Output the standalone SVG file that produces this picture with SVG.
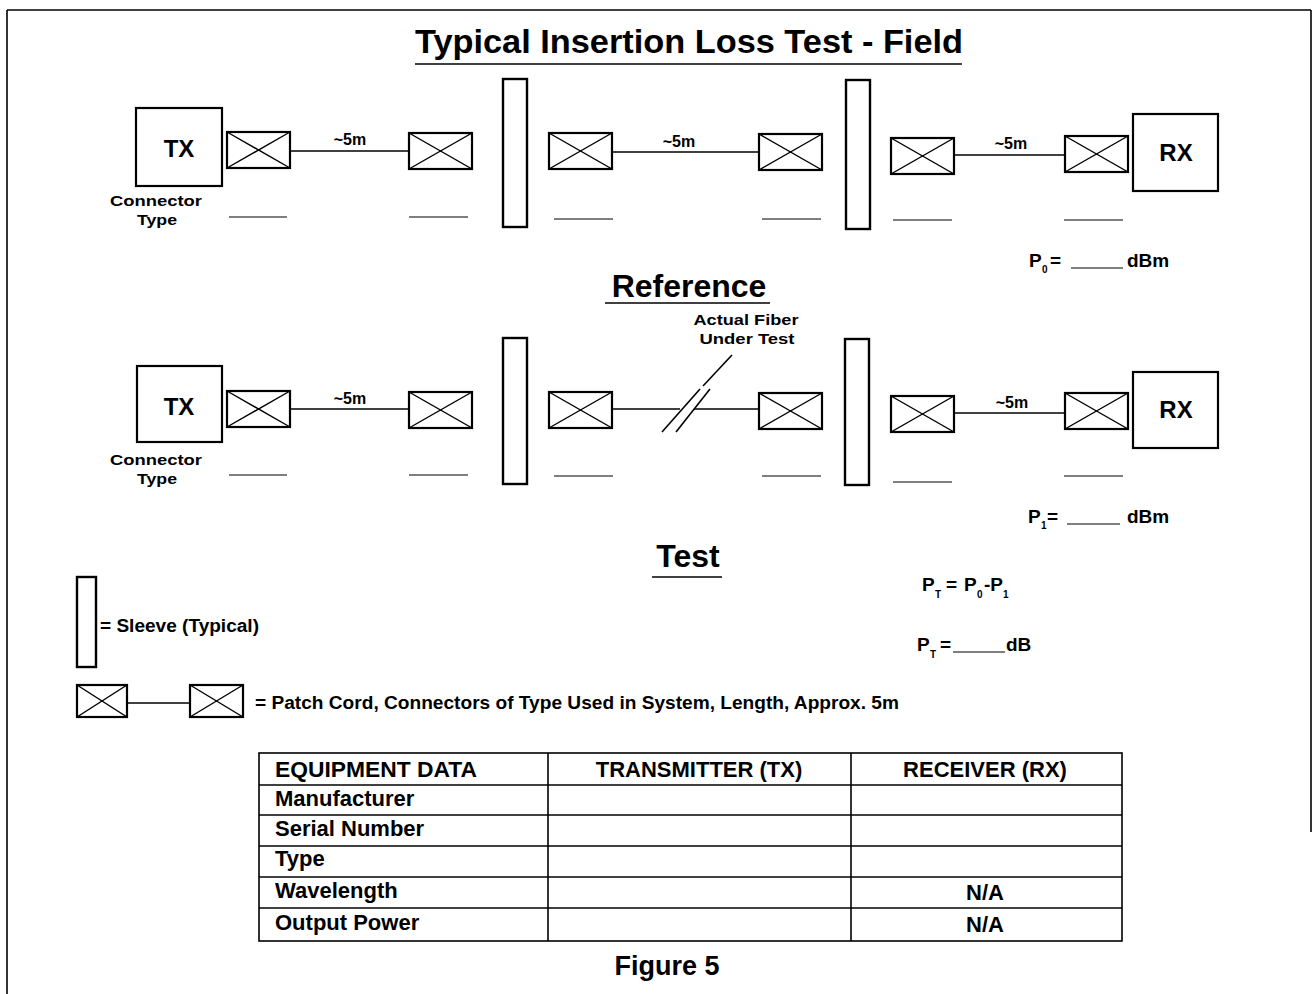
<svg xmlns="http://www.w3.org/2000/svg" width="1315" height="994" viewBox="0 0 1315 994">
<style>
text{font-family:"Liberation Sans",Arial,sans-serif;font-weight:bold;fill:#000}
.box{fill:#fff;stroke:#000;stroke-width:2.2}
.xb{fill:#fff;stroke:#000;stroke-width:2.2}
.xl{stroke:#000;stroke-width:1.4}
.ln{stroke:#000;stroke-width:1.6;fill:none}
.bl{stroke:#000;stroke-width:1.2}
.sl{fill:#fff;stroke:#000;stroke-width:2.4}
.t1{font-size:34px}
.t2{font-size:32px}
.lab{font-size:24px;text-anchor:middle}
.m5{font-size:16px;text-anchor:middle}
.ct{font-size:15px;text-anchor:middle}
.pw{font-size:19px}
.sub{font-size:10px}
.tb{font-size:22px}
.tg{stroke:#000;stroke-width:1.6;fill:none}
</style>
<defs>
<symbol id="xbox" viewBox="0 0 63 36" width="63" height="36" overflow="visible">
<rect class="xb" x="0" y="0" width="63" height="36"/>
<line class="xl" x1="0" y1="0" x2="63" y2="36"/>
<line class="xl" x1="0" y1="36" x2="63" y2="0"/>
</symbol>
</defs>
<rect x="0" y="0" width="1315" height="994" fill="#fff"/>
<g id="border" class="ln" stroke-width="2">
<line x1="7" y1="10" x2="1311" y2="10"/>
<line x1="7" y1="10" x2="7" y2="994"/>
<line x1="1311" y1="10" x2="1311" y2="832"/>
</g>
<g id="title">
<text class="t1" x="689" y="53" text-anchor="middle" textLength="548" lengthAdjust="spacingAndGlyphs">Typical Insertion Loss Test - Field</text>
<line class="ln" x1="415" y1="64" x2="962" y2="64" stroke-width="2"/>
</g>
<g id="connectors">
<line class="ln" x1="289" y1="151" x2="409" y2="151"/>
<line class="ln" x1="613" y1="152" x2="759" y2="152"/>
<line class="ln" x1="954" y1="155" x2="1065" y2="155"/>
<line class="ln" x1="289" y1="409" x2="409" y2="409"/>
<line class="ln" x1="613" y1="409" x2="680" y2="409"/>
<line class="ln" x1="694" y1="409" x2="759" y2="409"/>
<line class="ln" x1="954" y1="413" x2="1065" y2="413"/>
<line class="ln" x1="700" y1="389" x2="662" y2="432"/>
<line class="ln" x1="710" y1="389" x2="676" y2="432"/>
<line class="ln" x1="732" y1="355" x2="703" y2="386"/>
<line class="ln" x1="127" y1="703" x2="190" y2="703"/>
</g>
<g id="field-row">
<g id="tx1"><rect class="box" x="136" y="108" width="86" height="78"/><text class="lab" x="179" y="157">TX</text></g>
<g id="f-c1"><use href="#xbox" x="227" y="132"/></g>
<g id="f-c2"><use href="#xbox" x="409" y="133"/></g>
<g id="f-s1"><rect class="sl" x="503" y="79" width="24" height="148"/></g>
<g id="f-c3"><use href="#xbox" x="549" y="133"/></g>
<g id="f-c4"><use href="#xbox" x="759" y="134"/></g>
<g id="f-s2"><rect class="sl" x="846" y="80" width="24" height="149"/></g>
<g id="f-c5"><use href="#xbox" x="891" y="138"/></g>
<g id="f-c6"><use href="#xbox" x="1065" y="136"/></g>
<g id="rx1"><rect class="box" x="1133" y="114" width="85" height="77"/><text class="lab" x="1176" y="161">RX</text></g>
<text class="m5" x="350" y="145">~5m</text>
<text class="m5" x="679" y="147">~5m</text>
<text class="m5" x="1011" y="149">~5m</text>
<text class="ct" x="156" y="206" textLength="92" lengthAdjust="spacingAndGlyphs">Connector</text>
<text class="ct" x="157" y="225" textLength="40" lengthAdjust="spacingAndGlyphs">Type</text>
<g class="bl">
<line x1="229" y1="217" x2="287" y2="217"/><line x1="409" y1="217" x2="468" y2="217"/>
<line x1="554" y1="219" x2="613" y2="219"/><line x1="762" y1="219" x2="821" y2="219"/>
<line x1="893" y1="220" x2="952" y2="220"/><line x1="1064" y1="220" x2="1123" y2="220"/>
</g>
<g id="p0">
<text class="pw" x="1029" y="267">P</text><text class="sub" x="1042" y="273">0</text>
<text class="pw" x="1050" y="267">=</text>
<line class="bl" x1="1071" y1="268" x2="1123" y2="268"/>
<text class="pw" x="1127" y="267">dBm</text>
</g>
</g>
<g id="reference-title">
<text class="t2" x="689" y="297" text-anchor="middle">Reference</text>
<line class="ln" x1="605" y1="303" x2="770" y2="303" stroke-width="2"/>
</g>
<g id="test-row">
<g id="tx2"><rect class="box" x="137" y="366" width="85" height="76"/><text class="lab" x="179" y="415">TX</text></g>
<g id="t-c1"><use href="#xbox" x="227" y="391"/></g>
<g id="t-c2"><use href="#xbox" x="409" y="392"/></g>
<g id="t-s1"><rect class="sl" x="503" y="338" width="24" height="146"/></g>
<g id="t-c3"><use href="#xbox" x="549" y="392"/></g>
<g id="t-c4"><use href="#xbox" x="759" y="393"/></g>
<g id="t-s2"><rect class="sl" x="845" y="339" width="24" height="146"/></g>
<g id="t-c5"><use href="#xbox" x="891" y="396"/></g>
<g id="t-c6"><use href="#xbox" x="1065" y="393"/></g>
<g id="rx2"><rect class="box" x="1133" y="372" width="85" height="76"/><text class="lab" x="1176" y="418">RX</text></g>
<text class="m5" x="350" y="404">~5m</text>
<text class="m5" x="1012" y="408">~5m</text>
<text class="ct" x="746" y="325" textLength="105" lengthAdjust="spacingAndGlyphs">Actual Fiber</text>
<text class="ct" x="747" y="344" textLength="95" lengthAdjust="spacingAndGlyphs">Under Test</text>
<text class="ct" x="156" y="465" textLength="92" lengthAdjust="spacingAndGlyphs">Connector</text>
<text class="ct" x="157" y="484" textLength="40" lengthAdjust="spacingAndGlyphs">Type</text>
<g class="bl">
<line x1="229" y1="475" x2="287" y2="475"/><line x1="409" y1="475" x2="468" y2="475"/>
<line x1="554" y1="476" x2="613" y2="476"/><line x1="762" y1="476" x2="821" y2="476"/>
<line x1="893" y1="482" x2="952" y2="482"/><line x1="1064" y1="476" x2="1123" y2="476"/>
</g>
<g id="p1">
<text class="pw" x="1028" y="523">P</text><text class="sub" x="1041" y="529">1</text>
<text class="pw" x="1047" y="523">=</text>
<line class="bl" x1="1067" y1="524" x2="1120" y2="524"/>
<text class="pw" x="1127" y="523">dBm</text>
</g>
</g>
<g id="test-title">
<text class="t2" x="688" y="567" text-anchor="middle">Test</text>
<line class="ln" x1="652" y1="577" x2="722" y2="577" stroke-width="2"/>
</g>
<g id="pt-formula">
<text class="pw" x="922" y="591">P</text><text class="sub" x="935" y="598">T</text>
<text class="pw" x="946" y="591">=</text>
<text class="pw" x="964" y="591">P</text><text class="sub" x="977" y="598">0</text>
<text class="pw" x="984" y="591">-P</text><text class="sub" x="1003" y="598">1</text>
</g>
<g id="pt-value">
<text class="pw" x="917" y="651">P</text><text class="sub" x="930" y="658">T</text>
<text class="pw" x="940" y="651">=</text>
<line class="bl" x1="953" y1="652" x2="1005" y2="652"/>
<text class="pw" x="1006" y="651">dB</text>
</g>
<g id="legend-sleeve">
<rect class="sl" x="77" y="577" width="19" height="90"/>
<text x="100" y="632" font-size="18" textLength="159" lengthAdjust="spacingAndGlyphs">= Sleeve (Typical)</text>
</g>
<g id="legend-patch">
<rect class="xb" x="77" y="685" width="50" height="32"/>
<line class="xl" x1="77" y1="685" x2="127" y2="717"/><line class="xl" x1="77" y1="717" x2="127" y2="685"/>
<rect class="xb" x="190" y="685" width="53" height="32"/>
<line class="xl" x1="190" y1="685" x2="243" y2="717"/><line class="xl" x1="190" y1="717" x2="243" y2="685"/>
<text x="255" y="709" font-size="18" textLength="644" lengthAdjust="spacingAndGlyphs">= Patch Cord, Connectors of Type Used in System, Length, Approx. 5m</text>
</g>
<g id="table">
<rect class="tg" x="259" y="753" width="863" height="188"/>
<line class="tg" x1="548" y1="753" x2="548" y2="941"/>
<line class="tg" x1="851" y1="753" x2="851" y2="941"/>
<line class="tg" x1="259" y1="785" x2="1122" y2="785"/>
<line class="tg" x1="259" y1="815" x2="1122" y2="815"/>
<line class="tg" x1="259" y1="846" x2="1122" y2="846"/>
<line class="tg" x1="259" y1="877" x2="1122" y2="877"/>
<line class="tg" x1="259" y1="908" x2="1122" y2="908"/>
<text class="tb" x="275" y="777" textLength="202" lengthAdjust="spacingAndGlyphs">EQUIPMENT DATA</text>
<text class="tb" x="699" y="777" text-anchor="middle">TRANSMITTER (TX)</text>
<text class="tb" x="985" y="777" text-anchor="middle">RECEIVER (RX)</text>
<text class="tb" x="275" y="806">Manufacturer</text>
<text class="tb" x="275" y="836">Serial Number</text>
<text class="tb" x="275" y="866">Type</text>
<text class="tb" x="275" y="898">Wavelength</text>
<text class="tb" x="275" y="930">Output Power</text>
<text class="tb" x="985" y="900" text-anchor="middle">N/A</text>
<text class="tb" x="985" y="932" text-anchor="middle">N/A</text>
</g>
<g id="caption">
<text x="667" y="975" font-size="27" text-anchor="middle">Figure 5</text>
</g>
</svg>
